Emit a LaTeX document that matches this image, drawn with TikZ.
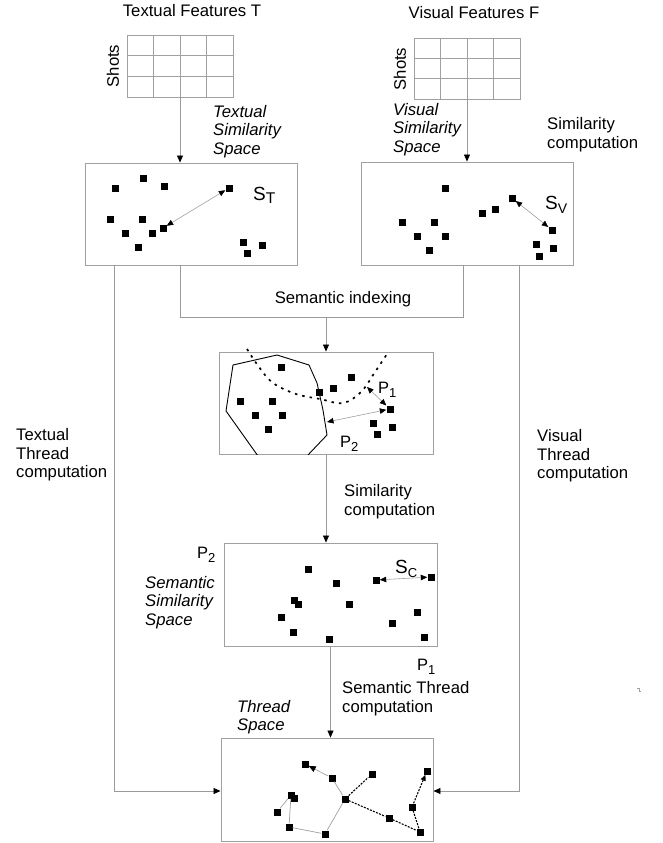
\documentclass[tikz,border=0pt]{standalone}
\usepackage{fontspec}
\setmainfont{Liberation Sans}
\usetikzlibrary{arrows.meta}
\definecolor{lgray}{HTML}{A0A0A0}
\definecolor{cgray}{HTML}{9A9A9A}
\begin{document}
\begin{tikzpicture}[x=1pt,y=-1pt,
  spacebox/.style={draw=lgray, line width=0.9pt, inner sep=0pt, minimum width=212pt, minimum height=102pt},
  tabbox/.style={draw=lgray, line width=0.8pt, inner sep=0pt},
  tabline/.style={draw=lgray, line width=0.8pt},
  dot/.style={rectangle, fill=black, inner sep=0pt, minimum size=7pt},
  conn/.style={draw=cgray, line width=0.8pt},
  tip/.style={-{Triangle[length=7pt,width=6pt,color=black]}},
  dbl/.style={draw=lgray, line width=0.6pt, {Triangle[length=6.5pt,width=5.5pt,color=black]}-{Triangle[length=6.5pt,width=5.5pt,color=black]}},
  edge gray/.style={draw=lgray, line width=0.7pt},
  edge dash/.style={draw=black, line width=1.1pt, dash pattern=on 2pt off 1.3pt},
  lbl/.style={font=\fontsize{16.7}{18.7}\selectfont, inner sep=0pt, align=left},
  ital/.style={font=\fontsize{16.7}{18.5}\selectfont\itshape, inner sep=0pt, align=left},
  big/.style={font=\fontsize{19}{20}\selectfont, inner sep=0pt},
  plbl/.style={font=\fontsize{16.5}{18}\selectfont, inner sep=0pt},
]
\useasboundingbox (0,0) rectangle (662,843);

% ---------- titles and tables
\node[lbl, anchor=base] (ttl1) at (192,17) {Textual Features T};
\node[lbl, anchor=base] (ttl2) at (474,19) {Visual Features F};
\node[tabbox, minimum width=106pt, minimum height=62pt] (tab1) at (180,66) {};
\node[tabbox, minimum width=106pt, minimum height=61pt] (tab2) at (467,68.5) {};
\foreach \i in {1,2,3} {
  \draw[tabline] (127+26.5*\i,35) -- (127+26.5*\i,97);
  \draw[tabline] (414+26.5*\i,38) -- (414+26.5*\i,99);
}
\foreach \j in {1,2} {
  \draw[tabline] (127,35+20.67*\j) -- (233,35+20.67*\j);
  \draw[tabline] (414,38+20.33*\j) -- (520,38+20.33*\j);
}
\node[lbl, rotate=90] (sh1) at (113,66) {Shots};
\node[lbl, rotate=90] (sh2) at (400,69) {Shots};

\node[ital, anchor=north west] (tss) at (213,105) {Textual\\Similarity\\Space};
\node[ital, anchor=north west] (vss) at (393,103) {Visual\\Similarity\\Space};
\node[lbl, anchor=north west] (simc1) at (547,117) {Similarity\\computation};

% ---------- space boxes
\node[spacebox] (b1) at (191,214) {};
\node[spacebox, minimum height=103pt] (b2) at (467,213.5) {};
\node[spacebox, minimum width=214pt] (mid) at (326,403) {};
\node[spacebox, minimum width=213pt, minimum height=103pt] (b4) at (330.5,594.5) {};
\node[spacebox, minimum height=103pt] (b5) at (327,789.5) {};

\draw[conn, tip] (tab1.south) -- (tab1.south |- b1.north);
\draw[conn, tip] (tab2.south) -- (b2.north);

% ---------- box 1 (textual)
\foreach \n/\p in {1/{(115,188)},2/{(143,178)},3/{(164,186)},4/{(229,188)},5/{(110,219)},6/{(142,219)},7/{(125,233)},8/{(152,233)},9/{(163,228)},10/{(138,247)},11/{(243,242)},12/{(262,245)},13/{(247,253)}}
  \node[dot] (t\n) at \p {};
\draw[dbl] (t9) -- (t4);
\node[big, anchor=base west] (st) at (253,200) {S\raisebox{-3.5pt}{\fontsize{15.5}{15.5}\selectfont T}};

% ---------- box 2 (visual)
\foreach \n/\p in {1/{(445,188)},2/{(402,222)},3/{(434,222)},4/{(417,236)},5/{(445,236)},6/{(429,250)},7/{(482,213)},8/{(495,209)},9/{(512,198)},10/{(552,230)},11/{(536,244)},12/{(553,248)},13/{(539,256)}}
  \node[dot] (v\n) at \p {};
\draw[dbl] (v9) -- (v10);
\node[big, anchor=base west] (sv) at (545,209) {S\raisebox{-4pt}{\fontsize{14}{14}\selectfont V}};

% ---------- semantic indexing bracket
\coordinate (bl) at (180,317);
\coordinate (br) at (463,317);
\draw[conn] (b1.south -| bl) -- (bl) -- (br) -- (b2.south -| br);
\draw[conn, tip] (mid.north |- bl) -- (mid.north);
\node[lbl, anchor=base] (sind) at (343,303) {Semantic indexing};

% ---------- thread lines
\coordinate (tl) at (114,791);
\coordinate (tr) at (519,791);
\draw[conn, tip] (b1.south -| tl) -- (tl) -- (tl -| b5.west);
\draw[conn, tip] (b2.south -| tr) -- (tr) -- (tr -| b5.east);
\node[lbl, anchor=north west] (ttc) at (16,428) {Textual\\Thread\\computation};
\node[lbl, anchor=north west] (vtc) at (537,429) {Visual\\Thread\\computation};

% ---------- middle box
\begin{scope}
\clip (mid.south west) rectangle (mid.north east);
\draw[black, line width=0.9pt] (258,456) -- (226,411) -- (233,365) -- (277,355) -- (309,365) -- (317,383) -- (323,410) -- (327,435) -- (307,456);
\end{scope}
\draw[black, line width=1.7pt, dash pattern=on 2.5pt off 5pt] plot[smooth, tension=0.6] coordinates {(247,349) (259,367) (273,383) (296,394) (320,399) (343,403) (361,392) (375,372) (387,354)};
\foreach \n/\p in {1/{(281,367)},2/{(240,401)},3/{(272,401)},4/{(255,415)},5/{(282,415)},6/{(268,429)},7/{(319,392)},8/{(333,388)},9/{(351,377)},10/{(390,409)},11/{(373,423)},12/{(392,427)},13/{(377,434)}}
  \node[dot] (m\n) at \p {};
\coordinate (pc) at (367,387);
\coordinate (pp) at (327,422);
\draw[dbl] (pc) -- (m10);
\draw[dbl] (pp) -- (m10);
\node[plbl, anchor=base west] (p1a) at (378,393) {P\raisebox{-4pt}{\fontsize{13}{13}\selectfont 1}};
\node[plbl, anchor=base west] (p2a) at (340,447) {P\raisebox{-4pt}{\fontsize{13}{13}\selectfont 2}};

\draw[conn, tip] (mid.south) -- (mid.south |- b4.north);
\node[lbl, anchor=north west] (simc2) at (344,484) {Similarity\\computation};

% ---------- box 4 (semantic similarity)
\foreach \n/\p in {1/{(308,569)},2/{(336,583)},3/{(294,600)},4/{(298,604)},5/{(349,604)},6/{(281,617)},7/{(293,632)},8/{(329,639)},9/{(376,580)},10/{(431,577)},11/{(417,612)},12/{(392,623)},13/{(424,637)}}
  \node[dot] (c\n) at \p {};
\draw[dbl] (c9) -- (c10);
\node[big, anchor=base west] (sc) at (395,573) {S\raisebox{-4pt}{\fontsize{13}{13}\selectfont C}};
\node[plbl, anchor=base west] (p2b) at (197,558) {P\raisebox{-4pt}{\fontsize{13}{13}\selectfont 2}};
\node[plbl, anchor=base west] (p1b) at (417,670) {P\raisebox{-4pt}{\fontsize{13}{13}\selectfont 1}};
\node[ital, anchor=north west] (sss) at (145,576) {Semantic\\Similarity\\Space};

\draw[conn, tip] (b4.south) -- (b4.south |- b5.north);
\node[lbl, anchor=north west] (stc) at (342,681) {Semantic Thread\\computation};
\node[ital, anchor=north west] (thsp) at (237,700) {Thread\\Space};

% ---------- box 5 (thread space)
\foreach \n/\p in {1/{(305,764)},2/{(332,778)},3/{(372,774)},4/{(427,771)},5/{(291,795)},6/{(294,798)},7/{(345,799)},8/{(277,812)},9/{(412,807)},10/{(289,827)},11/{(389,818)},12/{(325,834)},13/{(420,832)}}
  \node[dot] (z\n) at \p {};
\draw[edge gray, -{Triangle[length=7pt,width=6pt,color=black]}] (z2) -- (z1);
\draw[edge gray] (z2) -- (z7);
\draw[edge gray] (z7) -- (z12);
\draw[edge gray] (z12) -- (z10);
\draw[edge gray] (z10) -- (z5);
\draw[edge gray] (z5) -- (z8);
\draw[edge dash] (z7) -- (z3);
\draw[edge dash] (z7) -- (z11);
\draw[edge dash] (z11) -- (z13);
\draw[edge dash] (z13) -- (z9);
\draw[edge dash, -{Triangle[length=6pt,width=5pt,color=black]}] (z9) -- (z4);

% stray mark
\draw[lgray, line width=0.6pt] (637,688) -- (639,688) -- (639,691) -- (641,691);
\end{tikzpicture}
\end{document}
